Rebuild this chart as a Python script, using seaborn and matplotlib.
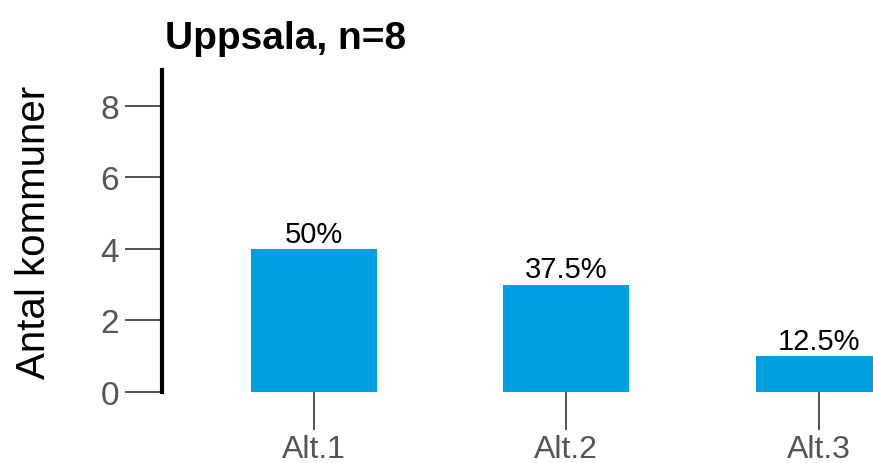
import matplotlib
matplotlib.use("Agg")
import matplotlib.pyplot as plt
import seaborn as sns
import pandas as pd

categories = ["Alt.1", "Alt.2", "Alt.3"]
counts = [4, 3, 1]
pct_labels = ["50%", "37.5%", "12.5%"]
title = "Uppsala, n=8"

sns.set_style("white")
plt.rcParams["font.family"] = ["Liberation Sans", "DejaVu Sans"]

df = pd.DataFrame({"alt": categories, "antal": counts})

fig = plt.figure(figsize=(8.73, 4.64), dpi=100)
ax = fig.add_axes([0.1856, 0.153, 0.8244, 0.694])
sns.barplot(data=df, x="alt", y="antal", color="#009FE3", saturation=1,
            width=0.5, linewidth=0, ax=ax)

ax.bar_label(ax.containers[0], labels=pct_labels, fontsize=21, padding=1, color="black")

ax.set_ylim(0, 9)
ax.set_xlim(-0.603, 2.25)
ax.set_yticks([0, 2, 4, 6, 8])
ax.set_xlabel("")
ax.set_ylabel("Antal kommuner", fontsize=29, labelpad=34, color="black")
ax.set_title(title, loc="left", fontsize=28, fontweight="bold", pad=16, x=0.004,
             color="black")

for s in ["top", "right", "bottom"]:
    ax.spines[s].set_visible(False)
ax.spines["left"].set_linewidth(3)
ax.spines["left"].set_color("black")

ax.tick_params(axis="y", length=27, width=1.2, color="#333333", labelsize=24,
               labelcolor="#555555", pad=4, left=True)
ax.tick_params(axis="x", length=27, width=1.2, color="#333333", labelsize=23,
               labelcolor="#555555", pad=3, bottom=True)

fig.savefig("out.png", dpi=100)
